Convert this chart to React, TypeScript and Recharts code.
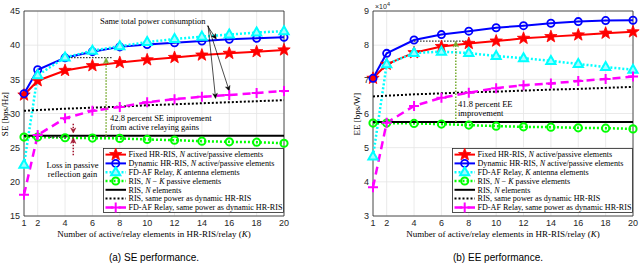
import React from 'react';
import {
  LineChart,
  Line,
  XAxis,
  YAxis,
  CartesianGrid,
  ReferenceLine,
  ReferenceArea,
  Legend,
} from 'recharts';

// ---------------- data ----------------
const K = [1, 2, 4, 6, 8, 10, 12, 14, 16, 18, 20];
const X_TICKS = [1, 2, 4, 6, 8, 10, 12, 14, 16, 18, 20];
const SE_TICKS = [15, 20, 25, 30, 35, 40, 45];
const EE_TICKS = [30000, 40000, 50000, 60000, 70000, 80000, 90000];

// (a) SE [bps/Hz]
const seFixed = [32.7, 34.8, 36.3, 37.0, 37.45, 37.85, 38.2, 38.55, 38.8, 39.05, 39.3];
const seDynamic = [32.9, 36.4, 38.15, 39.05, 39.75, 40.1, 40.35, 40.6, 40.85, 41.0, 41.15];
const seRelayK = [22.5, 35.6, 38.2, 39.2, 39.85, 40.45, 40.9, 41.25, 41.55, 41.85, 42.05];
const seRisNK = [26.55, 26.55, 26.45, 26.4, 26.35, 26.2, 26.1, 25.95, 25.85, 25.8, 25.65];
const seRisN = [26.75, 26.75, 26.75, 26.75, 26.75, 26.75, 26.75, 26.75, 26.75, 26.75, 26.75];
const seRisSame = [30.4, 30.5, 30.7, 30.85, 31.0, 31.2, 31.35, 31.5, 31.65, 31.8, 31.95];
const seRelaySame = [18.1, 26.85, 29.3, 30.4, 30.95, 31.65, 32.1, 32.45, 32.7, 33.0, 33.3];

// (b) EE [bps/W]
const eeFixed = [70300, 74400, 77800, 79600, 80500, 81200, 82000, 82500, 83000, 83500, 83900];
const eeDynamic = [70300, 77600, 81500, 83100, 84100, 85100, 85700, 86400, 86900, 87200, 87300];
const eeRelayK = [47400, 74400, 77700, 78100, 77700, 76800, 76200, 75400, 74500, 73600, 72800];
const eeRisNK = [57200, 57200, 57100, 56900, 56600, 56300, 56100, 56000, 55800, 55700, 55500];
const eeRisN = [57500, 57500, 57500, 57500, 57500, 57500, 57500, 57500, 57500, 57500, 57500];
const eeRisSame = [65000, 65200, 65600, 65900, 66200, 66400, 66700, 67000, 67200, 67500, 67800];
const eeRelaySame = [38400, 57300, 62200, 64600, 66100, 67400, 68300, 68800, 69500, 70100, 70800];

const seRows = K.map((k, i) => ({
  k,
  fixed: seFixed[i],
  dynamic: seDynamic[i],
  relayK: seRelayK[i],
  risNK: seRisNK[i],
  risN: seRisN[i],
  risSame: seRisSame[i],
  relaySame: seRelaySame[i],
}));
const eeRows = K.map((k, i) => ({
  k,
  fixed: eeFixed[i],
  dynamic: eeDynamic[i],
  relayK: eeRelayK[i],
  risNK: eeRisNK[i],
  risN: eeRisN[i],
  risSame: eeRisSame[i],
  relaySame: eeRelaySame[i],
}));

// ---------------- styles ----------------
type Seg = { t: string; i?: boolean };
type MarkerType = 'star' | 'circle' | 'triangle' | 'ocircle' | 'plus' | 'none';
const SERIES: { key: string; color: string; width: number; dash?: string; marker: MarkerType; label: Seg[] }[] = [
  { key: 'fixed', color: '#ff0000', width: 2, marker: 'star', label: [{ t: 'Fixed HR-RIS, ' }, { t: 'N', i: true }, { t: ' active/passive elements' }] },
  { key: 'dynamic', color: '#0000ff', width: 2, marker: 'circle', label: [{ t: 'Dynamic HR-RIS, ' }, { t: 'N', i: true }, { t: ' active/passive elements' }] },
  { key: 'relayK', color: '#00ffff', width: 2.5, dash: '2 2', marker: 'triangle', label: [{ t: 'FD-AF Relay, ' }, { t: 'K', i: true }, { t: ' antenna elements' }] },
  { key: 'risNK', color: '#00ff00', width: 2.5, dash: '2 2', marker: 'ocircle', label: [{ t: 'RIS, ' }, { t: 'N', i: true }, { t: ' − ' }, { t: 'K', i: true }, { t: ' passive elements' }] },
  { key: 'risN', color: '#000000', width: 2, marker: 'none', label: [{ t: 'RIS, ' }, { t: 'N', i: true }, { t: ' elements' }] },
  { key: 'risSame', color: '#000000', width: 2, dash: '2 2', marker: 'none', label: [{ t: 'RIS, same power as dynamic HR-RIS' }] },
  { key: 'relaySame', color: '#ff00ff', width: 2.5, dash: '8 5', marker: 'plus', label: [{ t: 'FD-AF Relay, same power as dynamic HR-RIS' }] },
];

const SERIF = '"Liberation Serif", "Times New Roman", serif';
const SANS = '"Liberation Sans", Arial, sans-serif';
const AXIS_COLOR = '#262626';
const ANNOT_GREEN = '#77AC30';
const ANNOT_RED = '#A2142F';

function MarkerShape({ type, cx, cy, color }: { type: MarkerType; cx: number; cy: number; color: string }) {
  if (cx == null || cy == null || type === 'none') return <g />;
  switch (type) {
    case 'star': {
      const pts: string[] = [];
      for (let j = 0; j < 10; j++) {
        const r = j % 2 === 0 ? 6.5 : 2.7;
        const a = -Math.PI / 2 + (j * Math.PI) / 5;
        pts.push(`${cx + r * Math.cos(a)},${cy + r * Math.sin(a)}`);
      }
      return <polygon points={pts.join(' ')} fill={color} stroke={color} strokeWidth={0.8} />;
    }
    case 'circle':
      return <circle cx={cx} cy={cy} r={3.6} fill="none" stroke={color} strokeWidth={1.8} />;
    case 'ocircle':
      return <circle cx={cx} cy={cy} r={3.6} fill="none" stroke={color} strokeWidth={2} />;
    case 'triangle':
      return (
        <polygon
          points={`${cx},${cy - 5} ${cx + 4.6},${cy + 3} ${cx - 4.6},${cy + 3}`}
          fill="#9ffcff"
          stroke={color}
          strokeWidth={2}
          strokeLinejoin="miter"
        />
      );
    case 'plus':
      return (
        <path d={`M${cx - 5},${cy}H${cx + 5}M${cx},${cy - 5}V${cy + 5}`} stroke={color} strokeWidth={2} fill="none" />
      );
    default:
      return <g />;
  }
}

const makeDot = (type: MarkerType, color: string) => (p: any) =>
  <MarkerShape key={`m-${p.index}`} type={type} cx={p.cx} cy={p.cy} color={color} />;

function renderLabel(segs: Seg[]) {
  return segs.map((s, i) => (
    <tspan key={i} fontStyle={s.i ? 'italic' : 'normal'}>
      {s.t}
    </tspan>
  ));
}

function LegendBox() {
  const W = 181;
  const H = 65;
  return (
    <svg width={W} height={H} style={{ display: 'block', overflow: 'visible' }}>
      <rect x={0.5} y={0.5} width={W - 1} height={H - 1} fill="#fff" stroke={AXIS_COLOR} strokeWidth={0.8} />
      {SERIES.map((s, i) => {
        const y = 6.6 + i * 8.8;
        return (
          <g key={s.key}>
            <line x1={2.5} x2={23} y1={y} y2={y} stroke={s.color} strokeWidth={s.width} strokeDasharray={s.dash} />
            <MarkerShape type={s.marker} cx={12.7} cy={y} color={s.color} />
            <text x={25.5} y={y + 2.8} fontSize={8.1} fontFamily={SERIF} fill="#000">
              {renderLabel(s.label)}
            </text>
          </g>
        );
      })}
    </svg>
  );
}

// arrow drawn along a ReferenceLine segment
const arrowShape = (color: string, width: number, dash: string | undefined, head: boolean, headLen = 5, headHalf = 2.4) => (p: any) => {
  const { x1, y1, x2, y2 } = p;
  if ([x1, y1, x2, y2].some((v) => v == null || Number.isNaN(v))) return <g />;
  const dx = x2 - x1;
  const dy = y2 - y1;
  const L = Math.hypot(dx, dy) || 1;
  const ux = dx / L;
  const uy = dy / L;
  const bx = x2 - ux * headLen;
  const by = y2 - uy * headLen;
  const px = -uy;
  const py = ux;
  const nx = x2 - ux * headLen * 0.7;
  const ny = y2 - uy * headLen * 0.7;
  return (
    <g>
      <line x1={x1} y1={y1} x2={head ? nx : x2} y2={head ? ny : y2} stroke={color} strokeWidth={width} strokeDasharray={dash} />
      {head && (
        <polygon
          points={`${x2},${y2} ${bx + px * headHalf},${by + py * headHalf} ${nx},${ny} ${bx - px * headHalf},${by - py * headHalf}`}
          fill={color}
          stroke={color}
          strokeWidth={0.5}
        />
      )}
    </g>
  );
};

type Annot = { from: [number, number]; to: [number, number]; color: string; width: number; dash?: string; head: boolean; headLen?: number; headHalf?: number };

// annotation segments in data coordinates (K, value)
const SE_ANNOTS: Annot[] = [
  { from: [4, 38.17], to: [7.5, 38.17], color: '#333', width: 1.3, dash: '1.5 1.5', head: false },
  { from: [7, 26.75], to: [7, 38.17], color: ANNOT_GREEN, width: 1.5, dash: '1.5 1.5', head: true, headLen: 6, headHalf: 2.8 },
  { from: [2.9, 26.5], to: [4.4, 26.5], color: '#444', width: 1.3, dash: '1.5 1.5', head: false },
  { from: [4.6, 28.5], to: [4.6, 27.15], color: ANNOT_RED, width: 1.5, dash: '1.5 1.5', head: true, headLen: 5, headHalf: 2.6 },
  { from: [4.6, 23.9], to: [4.6, 26.5], color: ANNOT_RED, width: 1.5, dash: '1.5 1.5', head: true, headLen: 6, headHalf: 2.6 },
  { from: [14.4, 42.85], to: [15.05, 40.9], color: '#000', width: 0.7, head: true, headLen: 5, headHalf: 2.3 },
  { from: [14.45, 42.85], to: [16.0, 33.3], color: '#000', width: 0.7, head: true, headLen: 5, headHalf: 2.3 },
  { from: [14.45, 42.85], to: [15.0, 32.2], color: '#000', width: 0.7, head: true, headLen: 5, headHalf: 2.3 },
];
const EE_ANNOTS: Annot[] = [
  { from: [4, 81200], to: [7.9, 81200], color: '#333', width: 1.3, dash: '1.5 1.5', head: false },
  { from: [7.05, 57500], to: [7.05, 81200], color: ANNOT_GREEN, width: 1.5, dash: '1.5 1.5', head: true, headLen: 6, headHalf: 2.8 },
];

type PanelProps = {
  rows: any[];
  domain: [number, number];
  ticks: number[];
  fmt?: (v: number) => string;
  margin: { top: number; right: number; bottom: number; left: number };
  annots: Annot[];
  legendLeft: number;
};

function Panel({ rows, domain, ticks, fmt, margin, annots, legendLeft }: PanelProps) {
  return (
    <LineChart width={320} height={264} data={rows} margin={margin}>
      <CartesianGrid stroke="#e4e4e4" strokeWidth={0.8} />
      <XAxis
        dataKey="k"
        type="number"
        domain={[1, 20]}
        ticks={X_TICKS}
        interval={0}
        height={20}
        tickLine={false}
        axisLine={false}
        tickSize={4}
        tickMargin={0}
        tick={{ fontSize: 9, fill: AXIS_COLOR, fontFamily: SANS }}
        allowDecimals={false}
      />
      <YAxis
        type="number"
        domain={domain}
        ticks={ticks}
        interval={0}
        width={24}
        tickLine={false}
        axisLine={false}
        tickSize={4}
        tickMargin={0}
        tickFormatter={fmt}
        tick={{ fontSize: 9, fill: AXIS_COLOR, fontFamily: SANS }}
      />
      {SERIES.map((s) => (
        <Line
          key={s.key}
          dataKey={s.key}
          type="linear"
          stroke={s.color}
          strokeWidth={s.width}
          strokeDasharray={s.dash}
          dot={s.marker === 'none' ? false : makeDot(s.marker, s.color)}
          activeDot={false}
          isAnimationActive={false}
          legendType="none"
        />
      ))}
      {annots.map((a, i) => (
        <ReferenceLine
          key={`a${i}`}
          segment={[
            { x: a.from[0], y: a.from[1] },
            { x: a.to[0], y: a.to[1] },
          ]}
          ifOverflow="visible"
          shape={arrowShape(a.color, a.width, a.dash, a.head, a.headLen, a.headHalf)}
        />
      ))}
      <ReferenceArea
        x1={1}
        x2={20}
        y1={domain[0]}
        y2={domain[1]}
        fill="none"
        fillOpacity={0}
        stroke={AXIS_COLOR}
        strokeWidth={0.8}
        ifOverflow="visible"
      />
      <Legend
        layout="vertical"
        align="center"
        verticalAlign="middle"
        wrapperStyle={{ left: legendLeft, top: 148, width: 181, height: 65 }}
        content={() => <LegendBox />}
      />
    </LineChart>
  );
}

export default function App() {
  const ann = { fontSize: 8.5, fontFamily: SERIF, fill: '#000' } as const;
  return (
    <div style={{ position: 'absolute', left: 0, top: 0, width: 640, height: 264, background: '#fff', overflow: 'hidden' }}>
      <div style={{ position: 'absolute', left: 0, top: 0 }}>
        <Panel
          rows={seRows}
          domain={[15, 45]}
          ticks={SE_TICKS}
          margin={{ top: 11, right: 36, bottom: 28, left: 0 }}
          annots={SE_ANNOTS}
          legendLeft={103}
        />
      </div>
      <div style={{ position: 'absolute', left: 320, top: 0 }}>
        <Panel
          rows={eeRows}
          domain={[30000, 90000]}
          ticks={EE_TICKS}
          fmt={(v: number) => String(v / 10000)}
          margin={{ top: 11, right: 7, bottom: 28, left: 29 }}
          annots={EE_ANNOTS}
          legendLeft={132}
        />
      </div>
      <svg width={640} height={264} style={{ position: 'absolute', left: 0, top: 0, pointerEvents: 'none' }}>
        {/* axis titles */}
        <text transform="translate(7.5,114) rotate(-90)" textAnchor="middle" fontSize={9} fontFamily={SERIF} fill="#000">
          SE [bps/Hz]
        </text>
        <text transform="translate(360,114) rotate(-90)" textAnchor="middle" fontSize={9} fontFamily={SERIF} fill="#000">
          EE [bps/W]
        </text>
        <text x={154} y={236.5} textAnchor="middle" fontSize={9} fontFamily={SERIF} fill="#000">
          Number of active/relay elements in HR-RIS/relay (<tspan fontStyle="italic">K</tspan>)
        </text>
        <text x={503} y={236.5} textAnchor="middle" fontSize={9} fontFamily={SERIF} fill="#000">
          Number of active/relay elements in HR-RIS/relay (<tspan fontStyle="italic">K</tspan>)
        </text>
        <text x={154} y={260.5} textAnchor="middle" fontSize={10} fontFamily={SANS} fill="#000">
          (a) SE performance.
        </text>
        <text x={498} y={260.5} textAnchor="middle" fontSize={10} fontFamily={SANS} fill="#000">
          (b) EE performance.
        </text>
        {/* exponent */}
        <text x={375} y={8.5} fontSize={7} fontFamily={SANS} fill={AXIS_COLOR}>
          ×10<tspan dy={-3} fontSize={5.5}>4</tspan>
        </text>
        {/* annotations (a) */}
        <text x={100} y={24} {...ann}>Same total power consumption</text>
        <text x={110} y={121} {...ann}>42.8 percent SE improvement</text>
        <text x={110} y={130} {...ann}>from active relaying gains</text>
        <text x={72.5} y={167.5} textAnchor="middle" {...ann}>Loss in passive</text>
        <text x={72.5} y={176.5} textAnchor="middle" {...ann}>reflection gain</text>
        {/* annotations (b) */}
        <text x={458} y={106.5} {...ann}>41.8 percent EE</text>
        <text x={458} y={115.5} {...ann}>improvement</text>
      </svg>
    </div>
  );
}
